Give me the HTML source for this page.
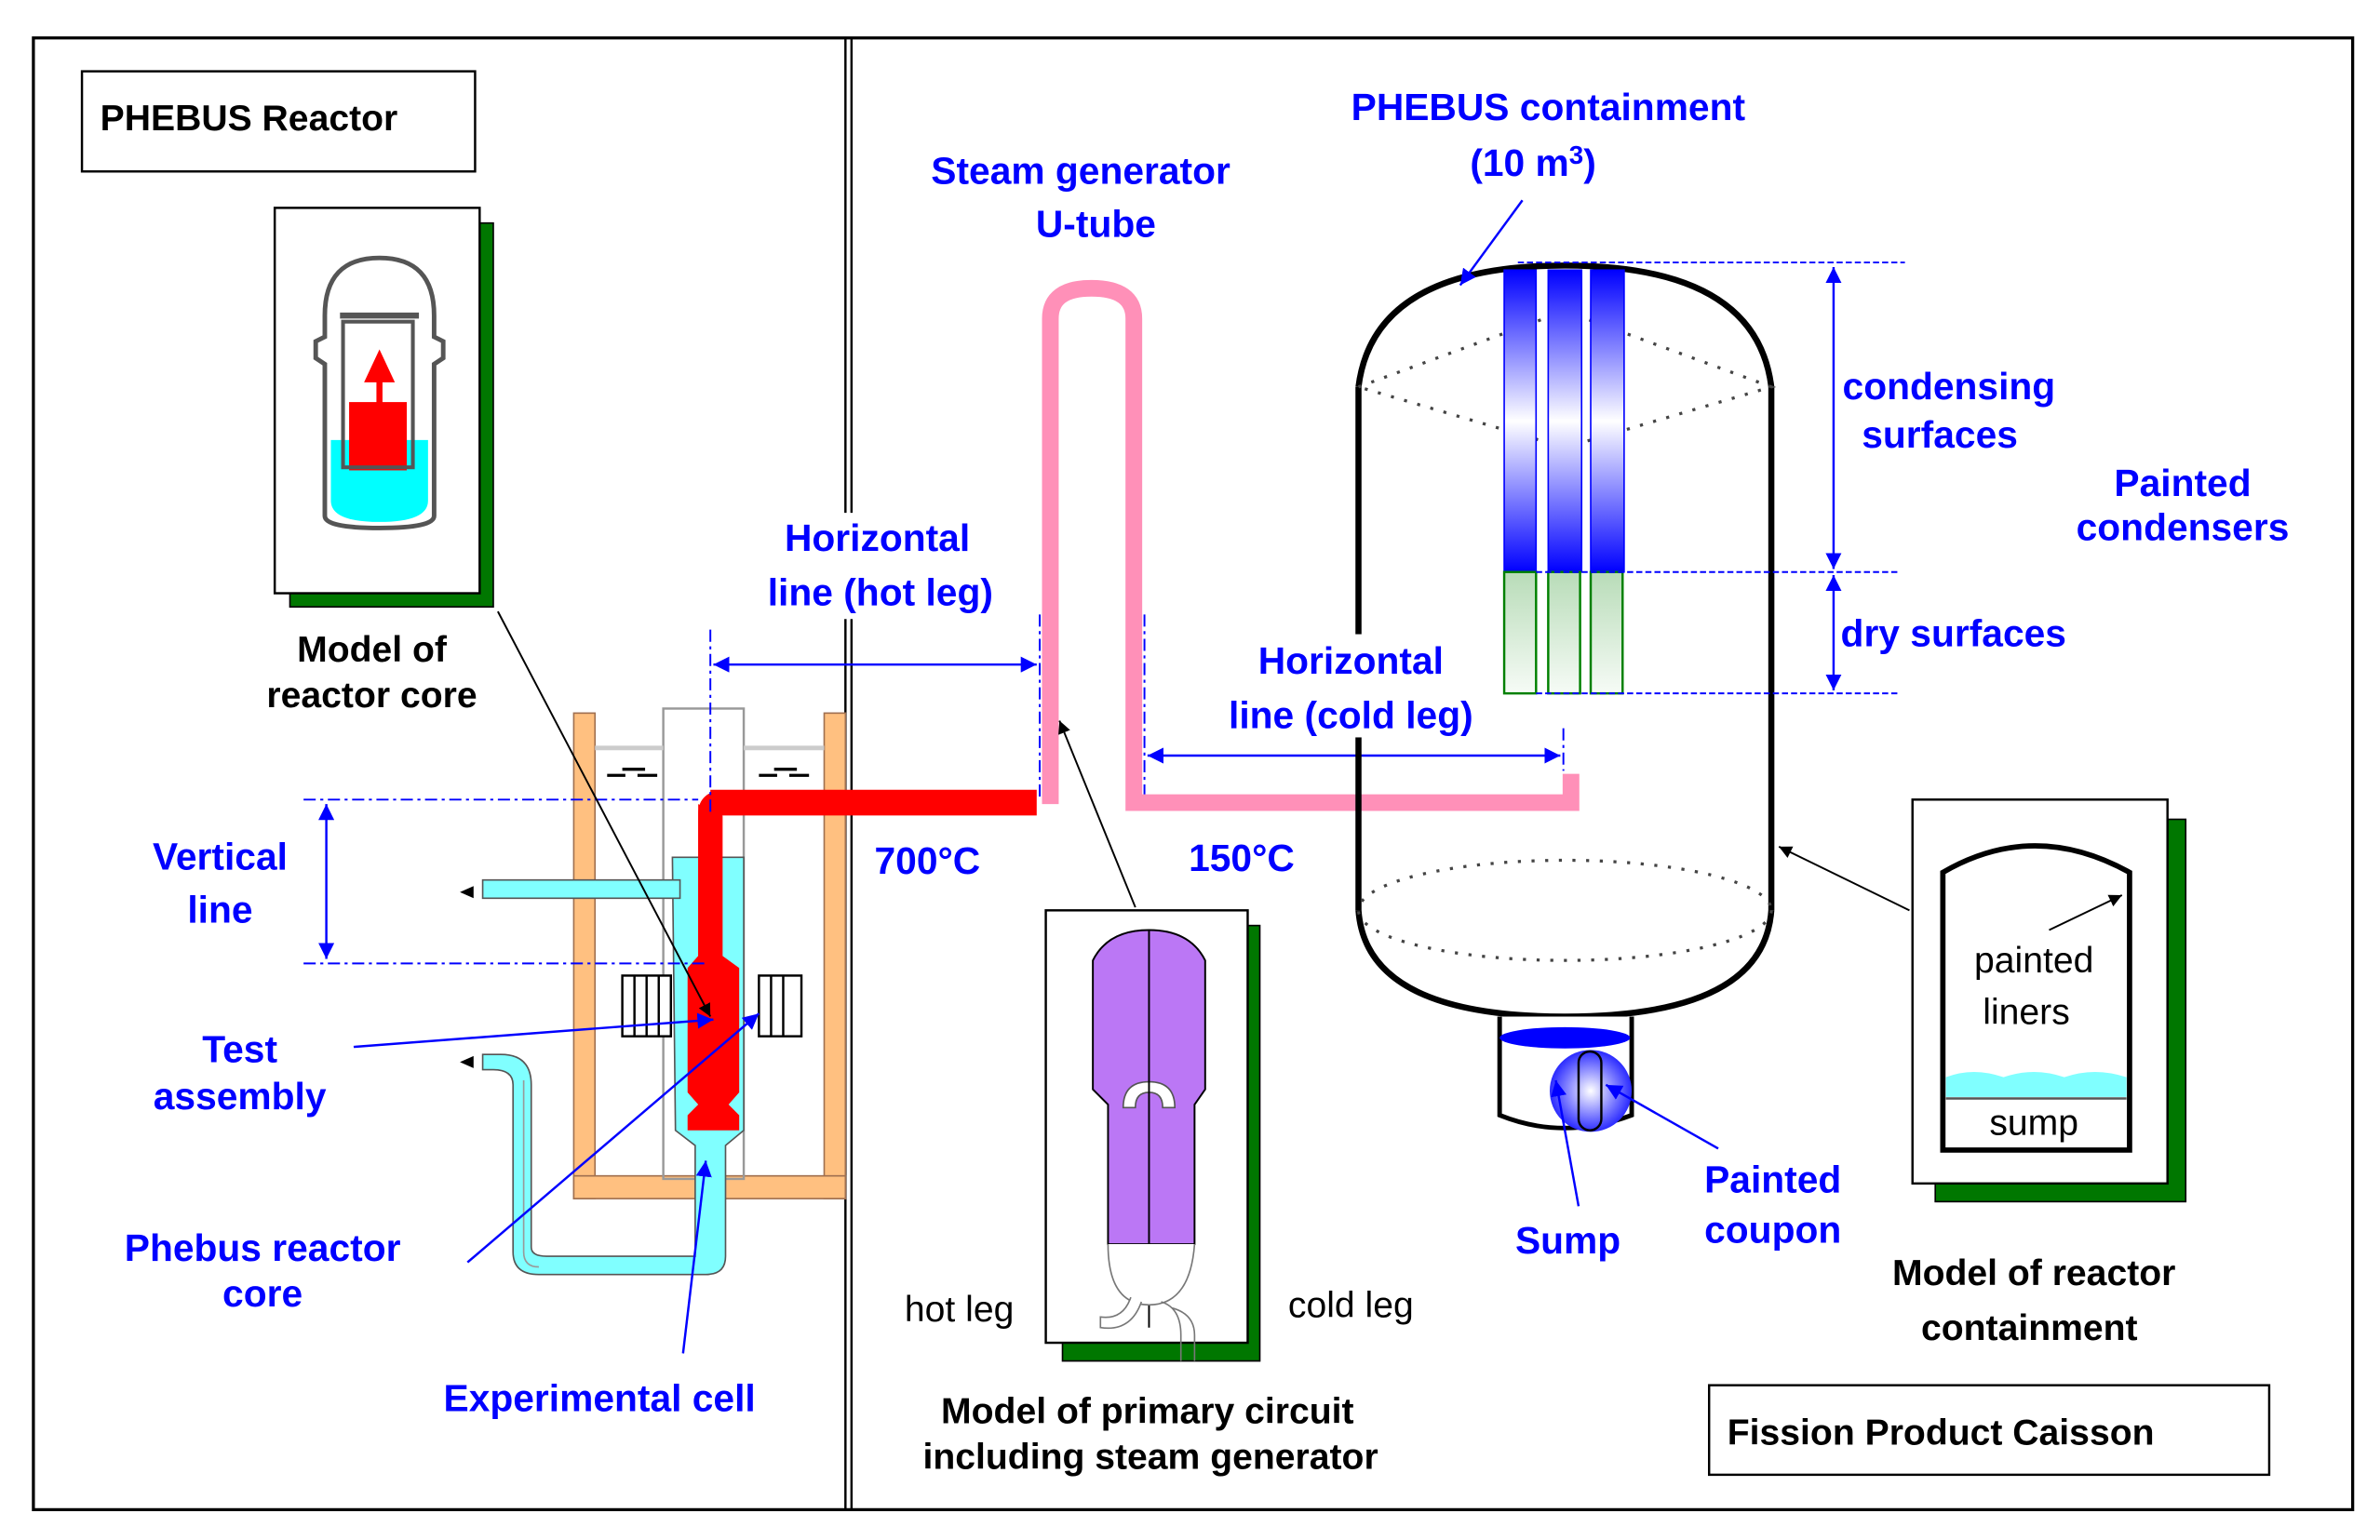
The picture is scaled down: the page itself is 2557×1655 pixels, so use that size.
<!DOCTYPE html>
<html><head><meta charset="utf-8"><style>
html,body{margin:0;padding:0;background:#fff;}
svg{display:block;}
text{font-family:"Liberation Sans",Arial,sans-serif;}
.b{fill:#0000ff;font-weight:bold;font-size:25px;}
.k{fill:#000;font-weight:bold;font-size:24px;}
</style></head><body>
<svg width="2557" height="1655" viewBox="0 0 1568 1015" preserveAspectRatio="none" xmlns="http://www.w3.org/2000/svg">
<defs>
<linearGradient id="bl" x1="0" y1="0" x2="0" y2="1">
<stop offset="0" stop-color="#0000ff"/><stop offset="0.5" stop-color="#ffffff"/><stop offset="1" stop-color="#0000ff"/></linearGradient>
<linearGradient id="gr" x1="0" y1="0" x2="0" y2="1">
<stop offset="0" stop-color="#b8dcb8"/><stop offset="1" stop-color="#f6fbf6"/></linearGradient>
<radialGradient id="ball" cx="0.5" cy="0.5" r="0.6"><stop offset="0" stop-color="#fff"/><stop offset="1" stop-color="#0000ff"/></radialGradient>
<marker id="ab" viewBox="0 0 10 10" refX="10" refY="5" markerWidth="7" markerHeight="7" orient="auto-start-reverse"><path d="M0,0L10,5L0,10z" fill="#0000ff"/></marker>
<marker id="ak" viewBox="0 0 10 10" refX="10" refY="5" markerWidth="7" markerHeight="7" orient="auto-start-reverse"><path d="M0,0L10,5L0,10z" fill="#000"/></marker>
</defs>
<!-- frame -->
<rect x="22" y="25" width="1528" height="970" fill="none" stroke="#000" stroke-width="2"/>
<line x1="557" y1="25" x2="557" y2="995" stroke="#000" stroke-width="1.5"/>
<line x1="561" y1="25" x2="561" y2="995" stroke="#000" stroke-width="1.5"/>

<!-- PHEBUS Reactor box -->
<rect x="54" y="47" width="259" height="66" fill="#fff" stroke="#000" stroke-width="1.5"/>
<text x="66" y="86" class="k">PHEBUS Reactor</text>

<!-- model of reactor core -->
<rect x="191" y="147" width="134" height="253" fill="#007700" stroke="#000"/>
<rect x="181" y="137" width="135" height="254" fill="#fff" stroke="#000" stroke-width="1.5"/>
<g stroke="#555" stroke-width="3" fill="none">
<path d="M214,340 L214,240 L208,236 L208,225 L214,222 L214,208 Q214,170 250,170 Q286,170 286,208 L286,222 L292,225 L292,236 L286,240 L286,340 Q286,348 250,348 Q214,348 214,340Z" fill="#fff"/>
</g>
<path d="M218,290 L282,290 L282,330 Q282,344 250,344 Q218,344 218,330Z" fill="#00ffff"/>
<rect x="230" y="265" width="38" height="45" fill="#ff0000"/>
<rect x="226" y="212" width="46" height="96" fill="none" stroke="#555" stroke-width="2.5"/>
<line x1="224" y1="208" x2="276" y2="208" stroke="#555" stroke-width="4"/>
<path d="M250,278 L250,250 L243,250 L250,235 L257,250 L250,250" fill="#ff0000" stroke="#ff0000" stroke-width="4"/>
<text x="245" y="436" class="k" text-anchor="middle">Model of</text>
<text x="245" y="466" class="k" text-anchor="middle">reactor core</text>

<!-- reactor pool -->
<rect x="378" y="470" width="14" height="320" fill="#ffc080" stroke="#a07050"/>
<rect x="543" y="470" width="14" height="320" fill="#ffc080" stroke="#a07050"/>
<rect x="378" y="775" width="179" height="15" fill="#ffc080" stroke="#a07050"/>
<rect x="437" y="467" width="53" height="310" fill="none" stroke="#999" stroke-width="1.5"/>
<line x1="392" y1="493" x2="437" y2="493" stroke="#ccc" stroke-width="3"/>
<line x1="490" y1="493" x2="543" y2="493" stroke="#ccc" stroke-width="3"/>
<g stroke="#000" stroke-width="2"><line x1="400" y1="511" x2="412" y2="511"/><line x1="410" y1="507" x2="425" y2="507"/><line x1="420" y1="511" x2="433" y2="511"/>
<line x1="500" y1="511" x2="512" y2="511"/><line x1="510" y1="507" x2="525" y2="507"/><line x1="520" y1="511" x2="533" y2="511"/></g>
<!-- cyan core vessel -->
<path d="M443,565 L490,565 L490,745 L478,755 L478,828 Q478,840 465,840 L355,840 Q338,840 338,825 L338,715 Q338,705 325,705 L318,705 L318,695 L330,695 Q350,695 350,715 L350,822 Q350,828 360,828 L458,828 L458,755 L445,745Z" fill="#80ffff" stroke="#555"/>
<path d="M318,580 L318,592 L448,592 L448,580Z" fill="#80ffff" stroke="#555"/>
<path d="M303,588 L312,584 L312,592Z" fill="#000"/>
<path d="M303,700 L312,696 L312,704Z" fill="#000"/>
<path d="M345,712 L345,825 Q345,835 355,835" fill="none" stroke="#999"/>
<!-- grids -->
<g fill="#fff" stroke="#000" stroke-width="1.5">
<rect x="410" y="643" width="32" height="40"/><rect x="500" y="643" width="28" height="40"/></g>
<g stroke="#000" stroke-width="1.5"><line x1="418" y1="643" x2="418" y2="683"/><line x1="426" y1="643" x2="426" y2="683"/><line x1="434" y1="643" x2="434" y2="683"/>
<line x1="508" y1="643" x2="508" y2="683"/><line x1="516" y1="643" x2="516" y2="683"/></g>
<!-- red test section -->
<path d="M460,530 L460,630 L453,638 L453,720 L460,728 L453,735 L453,745 L487,745 L487,735 L480,728 L487,720 L487,638 L476,630 L476,538Z" fill="#ff0000"/>
<path d="M468,529 L683,529" stroke="#ff0000" stroke-width="17" fill="none"/>
<path d="M468,640 L468,536 Q468,529 476,529" stroke="#ff0000" stroke-width="16" fill="none"/>
<!-- dash-dot lines -->
<g stroke="#0000ff" stroke-width="1.2" stroke-dasharray="8,3,2,3" fill="none">
<line x1="200" y1="527" x2="460" y2="527"/><line x1="200" y1="635" x2="465" y2="635"/>
<line x1="468" y1="415" x2="468" y2="535"/><line x1="685" y1="405" x2="685" y2="528"/>
<line x1="754" y1="405" x2="754" y2="530"/><line x1="1030" y1="480" x2="1030" y2="508"/>
</g>
<line x1="215" y1="530" x2="215" y2="632" stroke="#0000ff" stroke-width="1.5" marker-start="url(#ab)" marker-end="url(#ab)"/>
<line x1="470" y1="438" x2="683" y2="438" stroke="#0000ff" stroke-width="1.5" marker-start="url(#ab)" marker-end="url(#ab)"/>
<line x1="756" y1="498" x2="1028" y2="498" stroke="#0000ff" stroke-width="1.5" marker-start="url(#ab)" marker-end="url(#ab)"/>
<!-- pointers reactor -->
<line x1="328" y1="403" x2="468" y2="670" stroke="#000" stroke-width="1.2" marker-end="url(#ak)"/>
<line x1="233" y1="690" x2="470" y2="672" stroke="#0000ff" stroke-width="1.5" marker-end="url(#ab)"/>
<line x1="308" y1="832" x2="500" y2="668" stroke="#0000ff" stroke-width="1.5" marker-end="url(#ab)"/>
<line x1="450" y1="892" x2="465" y2="765" stroke="#0000ff" stroke-width="1.5" marker-end="url(#ab)"/>

<text x="145" y="573" class="b" text-anchor="middle">Vertical</text>
<text x="145" y="608" class="b" text-anchor="middle">line</text>
<text x="158" y="700" class="b" text-anchor="middle">Test</text>
<text x="158" y="731" class="b" text-anchor="middle">assembly</text>
<text x="173" y="831" class="b" text-anchor="middle">Phebus reactor</text>
<text x="173" y="861" class="b" text-anchor="middle">core</text>
<text x="395" y="930" class="b" text-anchor="middle">Experimental cell</text>
<rect x="500" y="338" width="162" height="70" fill="#fff"/>
<text x="578" y="363" class="b" text-anchor="middle">Horizontal</text>
<text x="580" y="399" class="b" text-anchor="middle">line (hot leg)</text>
<text x="611" y="576" class="b" text-anchor="middle">700°C</text>
<text x="818" y="574" class="b" text-anchor="middle">150°C</text>
<text x="712" y="121" class="b" text-anchor="middle">Steam generator</text>
<text x="722" y="156" class="b" text-anchor="middle">U-tube</text>

<!-- pink U tube -->
<path d="M692,530 L692,210 Q692,190 719,190 Q747,190 747,210 L747,529 L1035,529 L1035,510" fill="none" stroke="#ff90b8" stroke-width="11"/>
<line x1="748" y1="598" x2="698" y2="475" stroke="#000" stroke-width="1.2" marker-end="url(#ak)"/>

<!-- containment vessel -->
<path d="M895,255 Q905,175 1031,175 Q1157,175 1167,255" fill="none" stroke="#000" stroke-width="4"/>
<line x1="895" y1="255" x2="895" y2="600" stroke="#000" stroke-width="4"/>
<line x1="1167" y1="255" x2="1167" y2="600" stroke="#000" stroke-width="4"/>
<path d="M895,600 Q900,670 1031,670 Q1162,670 1167,600" fill="none" stroke="#000" stroke-width="4"/>
<g fill="none" stroke="#444" stroke-width="2" stroke-dasharray="2,7">
<path d="M895,255 L1031,205 L1167,255 L1031,295Z"/>
<ellipse cx="1031" cy="600" rx="136" ry="33"/></g>
<rect x="805" y="418" width="172" height="68" fill="#fff"/>
<text x="890" y="444" class="b" text-anchor="middle">Horizontal</text>
<text x="890" y="480" class="b" text-anchor="middle">line (cold leg)</text>
<!-- condensers -->
<g stroke="#0000ff"><rect x="991" y="178" width="21" height="199" fill="url(#bl)"/><rect x="1020" y="178" width="22" height="199" fill="url(#bl)"/><rect x="1048" y="178" width="22" height="199" fill="url(#bl)"/></g>
<g stroke="#008000" stroke-width="1.5"><rect x="991" y="377" width="21" height="80" fill="url(#gr)"/><rect x="1020" y="377" width="21" height="80" fill="url(#gr)"/><rect x="1048" y="377" width="21" height="80" fill="url(#gr)"/></g>
<g stroke="#0000ff" stroke-width="1.2" stroke-dasharray="4,2" fill="none">
<line x1="1000" y1="173" x2="1255" y2="173"/><line x1="1012" y1="377" x2="1250" y2="377"/><line x1="1012" y1="457" x2="1252" y2="457"/></g>
<line x1="1208" y1="176" x2="1208" y2="375" stroke="#0000ff" stroke-width="1.5" marker-start="url(#ab)" marker-end="url(#ab)"/>
<line x1="1208" y1="379" x2="1208" y2="455" stroke="#0000ff" stroke-width="1.5" marker-start="url(#ab)" marker-end="url(#ab)"/>
<line x1="1003" y1="132" x2="962" y2="188" stroke="#0000ff" stroke-width="1.5" marker-end="url(#ab)"/>
<text x="1020" y="79" class="b" text-anchor="middle">PHEBUS containment</text>
<text x="1010" y="116" class="b" text-anchor="middle">(10 m<tspan dy="-8" font-size="17">3</tspan><tspan dy="8">)</tspan></text>
<text x="1284" y="263" class="b" text-anchor="middle" font-size="22">condensing</text>
<text x="1278" y="295" class="b" text-anchor="middle" font-size="22">surfaces</text>
<text x="1287" y="426" class="b" text-anchor="middle" font-size="22">dry surfaces</text>
<text x="1438" y="327" class="b" text-anchor="middle">Painted</text>
<text x="1438" y="356" class="b" text-anchor="middle">condensers</text>
<!-- sump -->
<path d="M988,670 L988,735 Q1030,752 1075,735 L1075,670" fill="#fff" stroke="#000" stroke-width="3"/>
<ellipse cx="1031" cy="684" rx="43" ry="7" fill="#0000ff"/>
<circle cx="1048" cy="719" r="27" fill="url(#ball)"/>
<rect x="1040" y="693" width="15" height="52" rx="7.5" fill="none" stroke="#000" stroke-width="1.5"/>
<line x1="1040" y1="795" x2="1025" y2="712" stroke="#0000ff" stroke-width="1.5" marker-end="url(#ab)"/>
<line x1="1132" y1="757" x2="1058" y2="715" stroke="#0000ff" stroke-width="1.5" marker-end="url(#ab)"/>
<text x="1033" y="826" class="b" text-anchor="middle">Sump</text>
<text x="1168" y="786" class="b" text-anchor="middle" font-size="22">Painted</text>
<text x="1168" y="819" class="b" text-anchor="middle" font-size="22">coupon</text>

<!-- model of primary circuit -->
<rect x="700" y="610" width="130" height="287" fill="#007700" stroke="#000"/>
<rect x="689" y="600" width="133" height="285" fill="#fff" stroke="#000" stroke-width="1.5"/>
<path d="M720,633 Q730,613 757,613 Q784,613 794,633 L794,718 L787,728 L787,820 L730,820 L730,728 L720,718Z" fill="#bb77f5" stroke="#000" stroke-width="1.2"/>
<path d="M740,730 Q740,713 757,713 Q774,713 774,730 L766,730 Q766,720 757,720 Q748,720 748,730Z" fill="#fff" stroke="#555"/>
<line x1="757" y1="613" x2="757" y2="875" stroke="#000" stroke-width="1.2"/>
<path d="M730,820 Q730,860 757,860 Q784,860 787,820" fill="#fff" stroke="#777"/>
<path d="M745,855 Q740,870 725,868 L725,875 Q745,878 752,858" fill="#fff" stroke="#777"/>
<path d="M765,858 Q778,862 778,880 L778,897 M787,880 L787,897 M772,862 Q787,866 787,880" fill="none" stroke="#777"/>
<text x="632" y="871" class="k" text-anchor="middle" style="font-weight:normal">hot leg</text>
<text x="890" y="868" class="k" text-anchor="middle" style="font-weight:normal">cold leg</text>
<text x="756" y="938" class="k" text-anchor="middle">Model of primary circuit</text>
<text x="758" y="968" class="k" text-anchor="middle">including steam generator</text>

<!-- model of containment -->
<rect x="1275" y="540" width="165" height="252" fill="#007700" stroke="#000"/>
<rect x="1260" y="527" width="168" height="253" fill="#fff" stroke="#000" stroke-width="1.5"/>
<path d="M1280,758 L1280,575 Q1340,540 1403,575 L1403,758Z" fill="#fff" stroke="#000" stroke-width="3.5"/>
<path d="M1282,710 Q1300,703 1320,710 Q1340,703 1360,710 Q1380,703 1401,710 L1401,723 L1282,723Z" fill="#80ffff"/>
<line x1="1282" y1="724" x2="1401" y2="724" stroke="#555" stroke-width="1.5"/>
<line x1="1350" y1="613" x2="1398" y2="590" stroke="#000" stroke-width="1.2" marker-end="url(#ak)"/>
<line x1="1258" y1="600" x2="1172" y2="558" stroke="#000" stroke-width="1.2" marker-end="url(#ak)"/>
<text x="1340" y="641" class="k" text-anchor="middle" style="font-weight:normal" font-size="22">painted</text>
<text x="1335" y="675" class="k" text-anchor="middle" style="font-weight:normal" font-size="22">liners</text>
<text x="1340" y="748" class="k" text-anchor="middle" style="font-weight:normal" font-size="22">sump</text>
<text x="1340" y="847" class="k" text-anchor="middle">Model of reactor</text>
<text x="1337" y="883" class="k" text-anchor="middle">containment</text>

<rect x="1126" y="913" width="369" height="59" fill="#fff" stroke="#000" stroke-width="1.5"/>
<text x="1138" y="952" class="k" font-size="26">Fission Product Caisson</text>
</svg>
</body></html>
